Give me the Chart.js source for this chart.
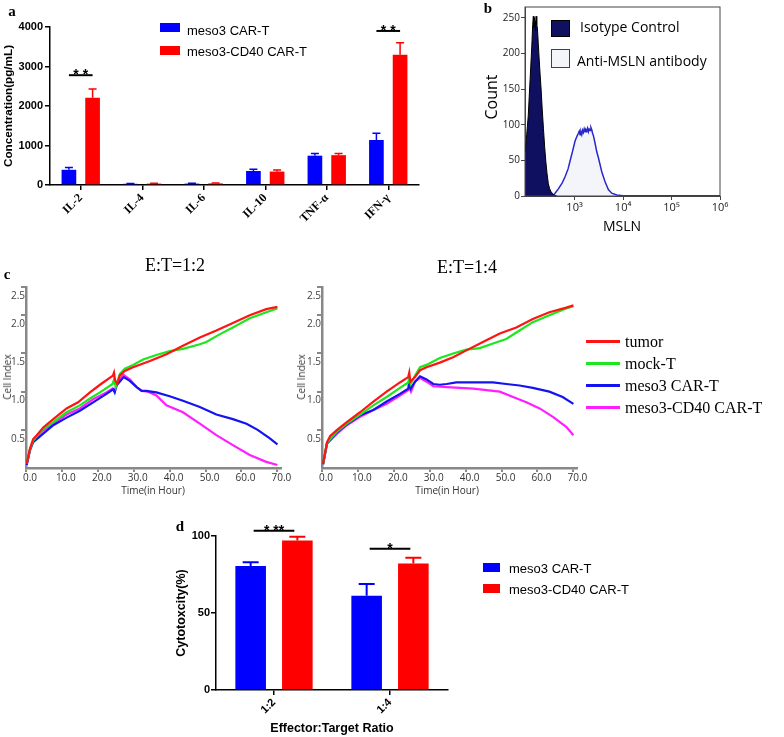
<!DOCTYPE html>
<html>
<head>
<meta charset="UTF-8">
<title>meso3 / meso3-CD40 CAR-T</title>
<script src="https://cdn.jsdelivr.net/npm/chart.js"></script>
<style>
    * { box-sizing: border-box; }
    body { margin: 0; background: #fff; }
    #page { position: relative; width: 784px; height: 737px; overflow: hidden; font-family: "Liberation Sans", Arial, sans-serif; color: #000; }
    .box { position: absolute; }
    .t { position: absolute; white-space: nowrap; line-height: 1; }
    .c { transform: translate(-50%, -50%); }
    .l { transform: translateY(-50%); }
    .v { transform: translate(-50%, -50%) rotate(-90deg); }
    .letter { font-family: "Liberation Serif", "Times New Roman", serif; font-weight: bold; font-size: 15px; }
    .sw { position: absolute; }
    .serif { font-family: "Liberation Serif", "Times New Roman", serif; }
    .sans { font-family: "Open Sans", "Noto Sans", sans-serif; }
</style>
</head>
<body>
<div id="page">
    <!-- a -->
    <div class="box" style="left:0;top:0;width:430px;height:230px"><canvas id="chartA" width="430" height="230"></canvas></div>
    <div class="t c letter" style="left:12px;top:11px">a</div>
    <div class="t v" style="left:8px;top:106px;font-weight:bold;font-size:11.7px">Concentration(pg/mL)</div>
    <div class="sw" style="left:160px;top:23px;width:20px;height:9px;background:#0000ff"></div>
    <div class="t l" style="left:187px;top:30px;font-size:13px">meso3 CAR-T</div>
    <div class="sw" style="left:160px;top:46px;width:20px;height:9px;background:#ff0000"></div>
    <div class="t l" style="left:187px;top:51px;font-size:13px">meso3-CD40 CAR-T</div>

    <!-- b -->
    <div class="box" style="left:470px;top:0;width:260px;height:221px"><canvas id="chartB" width="260" height="221"></canvas></div>
    <div class="t c letter" style="left:488px;top:8px">b</div>
    <div class="t v sans" style="left:491px;top:97px;font-size:16px">Count</div>
    <div class="t c sans" style="left:622px;top:226px;font-size:14px">MSLN</div>
    <div class="sw" style="left:551px;top:20px;width:19px;height:17px;background:#101060;border:1px solid #000"></div>
    <div class="t l sans" style="left:580px;top:27px;font-size:14px">Isotype Control</div>
    <div class="sw" style="left:551px;top:49px;width:19px;height:19px;background:#f4f4fb;border:1.5px solid #3030c8"></div>
    <div class="t l sans" style="left:577px;top:61px;font-size:14px">Anti-MSLN antibody</div>

    <!-- c -->
    <div class="box" style="left:0;top:275px;width:300px;height:215px"><canvas id="chartC1" width="300" height="215"></canvas></div>
    <div class="box" style="left:296px;top:275px;width:300px;height:215px"><canvas id="chartC2" width="300" height="215"></canvas></div>
    <div class="t c letter" style="left:7px;top:274px">c</div>
    <div class="t c serif" style="left:175px;top:265px;font-size:18px">E:T=1:2</div>
    <div class="t c serif" style="left:467px;top:267px;font-size:18px">E:T=1:4</div>
    <div class="t v sans" style="left:7px;top:377px;font-size:10px;color:#333">Cell Index</div>
    <div class="t v sans" style="left:301px;top:377px;font-size:10px;color:#333">Cell Index</div>
    <div class="t c sans" style="left:153px;top:490px;font-size:10px;color:#333">Time(in Hour)</div>
    <div class="t c sans" style="left:447px;top:490px;font-size:10px;color:#333">Time(in Hour)</div>
    <div class="sw" style="left:586px;top:340px;width:34px;height:2.5px;background:#ff1414"></div>
    <div class="t l serif" style="left:625px;top:342px;font-size:16px">tumor</div>
    <div class="sw" style="left:586px;top:362px;width:34px;height:2.5px;background:#1ee61e"></div>
    <div class="t l serif" style="left:625px;top:364px;font-size:16px">mock-T</div>
    <div class="sw" style="left:586px;top:384px;width:34px;height:2.5px;background:#1414f0"></div>
    <div class="t l serif" style="left:625px;top:386px;font-size:16px">meso3 CAR-T</div>
    <div class="sw" style="left:586px;top:406px;width:34px;height:2.5px;background:#ff1eff"></div>
    <div class="t l serif" style="left:625px;top:408px;font-size:16px">meso3-CD40 CAR-T</div>

    <!-- d -->
    <div class="box" style="left:160px;top:495px;width:330px;height:242px"><canvas id="chartD" width="330" height="242"></canvas></div>
    <div class="t c letter" style="left:180px;top:526px">d</div>
    <div class="t v" style="left:181px;top:613px;font-weight:bold;font-size:12.5px">Cytotoxcity(%)</div>
    <div class="t c" style="left:332px;top:728px;font-weight:bold;font-size:12.5px">Effector:Target Ratio</div>
    <div class="sw" style="left:483px;top:563px;width:17px;height:9px;background:#0000ff"></div>
    <div class="t l" style="left:509px;top:568px;font-size:13px">meso3 CAR-T</div>
    <div class="sw" style="left:483px;top:584px;width:17px;height:9px;background:#ff0000"></div>
    <div class="t l" style="left:509px;top:589px;font-size:13px">meso3-CD40 CAR-T</div>
</div>

<script>
    // ---- data: panel a (cytokines, pg/mL)
    const cytokines = ['IL-2', 'IL-4', 'IL-6', 'IL-10', 'TNF-α', 'IFN-γ'];
    const meso3Cyto = [385, 30, 35, 355, 742, 1140];
    const meso3CytoErr = [55, 8, 8, 45, 55, 170];
    const cd40Cyto = [2210, 35, 40, 340, 755, 3300];
    const cd40CytoErr = [220, 8, 8, 40, 45, 300];
    const cytoSigIndex = [0, 5];
    const cytoSigLevel = [2780, 3900];
    const cytoSigText = ['* *', '* *'];

    // ---- data: panel b (flow histogram, [MSLN, count])
    const isotypeCounts = [[96, 61], [103, 86], [111, 113], [121, 163], [131, 209], [137, 240], [141, 252],
        [145, 236], [149, 250], [153, 245], [157, 232], [161, 252], [166, 240], [171, 236], [178, 215],
        [185, 195], [194, 172], [204, 150], [215, 122], [228, 95], [241, 70], [255, 49], [270, 32],
        [288, 17], [307, 10], [328, 6], [355, 3], [383, 1], [430, 0]];
    const antiMslnCounts = [[312, 0], [378, 2], [463, 10], [553, 18], [637, 27], [735, 38], [807, 49],
        [910, 63], [1024, 77], [1126, 84], [1198, 88], [1250, 91], [1298, 86], [1350, 90], [1407, 86],
        [1460, 92], [1518, 89], [1580, 94], [1644, 90], [1710, 93], [1785, 91], [1850, 95], [1928, 90],
        [2000, 94], [2090, 92], [2180, 96], [2265, 93], [2350, 88], [2444, 85], [2650, 74], [2871, 62],
        [3097, 54], [3640, 34], [4257, 20], [4980, 9], [5845, 4], [7413, 1.5], [10000, 0.5],
        [22400, 0.3], [1000000, 0.3]];
    const flowTicks = [1e3, 1e4, 1e5, 1e6];
    const flowTickLabels = ['10³', '10⁴', '10⁵', '10⁶'];
    const countTicks = [0, 50, 100, 150, 200, 250];

    // ---- data: panel c (cell index, [hour, value])
    const tumor12 = [[0.2, 0.06], [1.1, 0.25], [2, 0.38], [3, 0.43], [4.8, 0.53], [7.6, 0.64], [11.3, 0.78],
        [14.5, 0.86], [17.8, 0.99], [20.6, 1.09], [24.2, 1.21], [24.5, 1.25], [24.8, 1.15], [25.4, 1.1],
        [26.1, 1.21], [27.5, 1.27], [29.8, 1.32], [34.5, 1.40], [39.1, 1.49], [43.7, 1.60], [48.4, 1.71],
        [53, 1.80], [57.6, 1.90], [62.3, 2.0], [66.9, 2.08], [70, 2.11]];
    const mock12 = [[0.2, 0.06], [1.1, 0.24], [2, 0.36], [4.8, 0.51], [7.6, 0.60], [11.3, 0.73], [15, 0.82],
        [17.8, 0.91], [20.6, 0.99], [24.1, 1.10], [24.5, 1.16], [25, 1.06], [26.1, 1.23], [27.5, 1.30],
        [29.8, 1.35], [32.6, 1.42], [36.3, 1.48], [40, 1.53], [43.7, 1.56], [48.4, 1.62], [50.2, 1.65],
        [53.9, 1.75], [57.6, 1.84], [62.3, 1.96], [66.9, 2.04], [70, 2.09]];
    const meso3_12 = [[0.2, 0.04], [1.1, 0.23], [2, 0.34], [4.8, 0.45], [7.6, 0.56], [11.3, 0.66], [15, 0.75],
        [18.7, 0.86], [22.4, 0.97], [24.3, 1.03], [24.7, 0.99], [25.2, 1.08], [27.2, 1.19], [28.9, 1.14],
        [30.8, 1.06], [32.2, 1.01], [33.5, 1.01], [36.3, 0.99], [40, 0.94], [43.7, 0.88], [48.4, 0.80],
        [53, 0.70], [57.6, 0.64], [61.4, 0.58], [64.5, 0.50], [67.8, 0.39], [70, 0.31]];
    const cd40_12 = [[0.2, 0.05], [1.1, 0.24], [2, 0.36], [4.8, 0.49], [7.6, 0.58], [11.3, 0.70], [15, 0.78],
        [18.7, 0.90], [22.4, 0.99], [24.1, 1.04], [24.7, 1.0], [25.3, 1.1], [27.1, 1.22], [28.9, 1.16],
        [30.8, 1.06], [32.2, 1.01], [34, 1.0], [36.3, 0.95], [39.1, 0.82], [43.7, 0.73], [48.4, 0.58],
        [53, 0.43], [57.6, 0.30], [62.3, 0.17], [66.9, 0.08], [70, 0.04]];

    const tumor14 = [[0.3, 0.06], [1.4, 0.34], [2.3, 0.42], [4.2, 0.50], [6.9, 0.60], [10.6, 0.73], [14.3, 0.87],
        [18, 1.0], [21.7, 1.12], [24, 1.19], [24.3, 1.25], [24.6, 1.13], [25.9, 1.19], [27.3, 1.28],
        [29.1, 1.32], [32.8, 1.38], [36.5, 1.45], [40.2, 1.54], [44.8, 1.65], [49.5, 1.76], [54.1, 1.84],
        [58.7, 1.95], [63.3, 2.04], [68, 2.10], [70, 2.13]];
    const mock14 = [[0.3, 0.06], [1.4, 0.33], [4.2, 0.48], [6.9, 0.58], [10.6, 0.70], [14.3, 0.82], [18, 0.93],
        [21.7, 1.05], [24, 1.12], [24.3, 1.19], [24.7, 1.10], [25.9, 1.21], [27.3, 1.32], [29.1, 1.35],
        [32.8, 1.44], [36.5, 1.50], [40.2, 1.55], [43.9, 1.57], [47.6, 1.63], [51.3, 1.69], [55, 1.80],
        [58.7, 1.91], [63.3, 2.0], [68, 2.09], [70, 2.12]];
    const meso3_14 = [[0.3, 0.05], [1.4, 0.32], [4.2, 0.47], [6.9, 0.57], [10.6, 0.69], [14.3, 0.76], [18, 0.87],
        [21.7, 0.97], [24, 1.04], [24.3, 1.13], [24.7, 1.04], [25.9, 1.13], [27.3, 1.20], [29.1, 1.16],
        [31, 1.10], [32.8, 1.09], [34.7, 1.10], [37.4, 1.12], [42.1, 1.12], [47.6, 1.12], [51.3, 1.10],
        [55, 1.08], [58.7, 1.05], [63.3, 1.0], [67, 0.93], [70, 0.84]];
    const cd40_14 = [[0.3, 0.05], [1.4, 0.32], [4.2, 0.45], [6.9, 0.56], [10.6, 0.67], [14.3, 0.76], [18, 0.84],
        [21.7, 0.95], [24, 1.02], [24.5, 1.04], [24.8, 1.0], [25.9, 1.13], [27.3, 1.18], [29.1, 1.13],
        [31, 1.07], [34.7, 1.06], [38.4, 1.05], [42.1, 1.04], [45.8, 1.02], [49.5, 1.0], [53.2, 0.93],
        [56.9, 0.86], [60.6, 0.78], [64.3, 0.67], [68, 0.54], [70, 0.43]];
    const timeTicks = [0, 10, 20, 30, 40, 50, 60, 70];
    const cellIdxTickPos = [0.5, 1.0, 1.5, 2.0, 2.37];
    const cellIdxTickLabels = ['0.5', '1.0', '1.5', '2.0', '2.5'];

    // ---- data: panel d (cytotoxicity %)
    const ratios = ['1:2', '1:4'];
    const meso3Cytotox = [80.5, 61.2];
    const meso3CytotoxErr = [2.4, 7.6];
    const cd40Cytotox = [97, 82.2];
    const cd40CytotoxErr = [2.5, 3.7];
    const cytotoxSigIndex = [0, 1];
    const cytotoxSigLevel = [103.4, 91.8];
    const cytotoxSigText = ['* **', '*'];

    const BLUE = '#0000ff', RED = '#ff0000';
    const SERIF = '"Liberation Serif", "Times New Roman", serif';
    const SANS = '"Open Sans", "Noto Sans", sans-serif';
    Chart.defaults.font.family = '"Liberation Sans", Arial, sans-serif';

    // one-sided error bars on top of each bar
    function errorBarPlugin(cap, width) {
        return {
            id: 'errorBars',
            afterDatasetsDraw(chart) {
                const ctx = chart.ctx, y = chart.scales.y;
                chart.data.datasets.forEach((ds, i) => {
                    chart.getDatasetMeta(i).data.forEach((bar, j) => {
                        const top = y.getPixelForValue(ds.data[j] + ds.errors[j]);
                        ctx.save();
                        ctx.strokeStyle = ds.backgroundColor;
                        ctx.lineWidth = width;
                        ctx.beginPath();
                        ctx.moveTo(bar.x, bar.y);
                        ctx.lineTo(bar.x, top);
                        ctx.moveTo(bar.x - cap / 2, top);
                        ctx.lineTo(bar.x + cap / 2, top);
                        ctx.stroke();
                        ctx.restore();
                    });
                });
            }
        };
    }

    // significance line + stars between the two bars of a group
    function sigPlugin(index, level, text, inset) {
        return {
            id: 'sigBars',
            afterDatasetsDraw(chart) {
                const ctx = chart.ctx, y = chart.scales.y;
                const a = chart.getDatasetMeta(0).data, b = chart.getDatasetMeta(1).data;
                index.forEach((idx, k) => {
                    const py = y.getPixelForValue(level[k]);
                    const x1 = a[idx].x + inset, x2 = b[idx].x - inset;
                    ctx.save();
                    ctx.strokeStyle = '#000';
                    ctx.lineWidth = 2;
                    ctx.beginPath();
                    ctx.moveTo(x1, py);
                    ctx.lineTo(x2, py);
                    ctx.stroke();
                    ctx.fillStyle = '#000';
                    ctx.font = 'bold 14px "Liberation Sans", Arial';
                    ctx.textAlign = 'center';
                    ctx.textBaseline = 'alphabetic';
                    ctx.fillText(text[k], (x1 + x2) / 2, py + 4);
                    ctx.restore();
                });
            }
        };
    }

    const framePlugin = {
        id: 'frame',
        afterDraw(chart) {
            const { ctx, chartArea: a } = chart;
            ctx.save();
            ctx.strokeStyle = '#444';
            ctx.lineWidth = 1;
            ctx.strokeRect(a.left, a.top, a.right - a.left, a.bottom - a.top);
            ctx.restore();
        }
    };

    const blackAxis = { color: '#000', width: 1.5 };
    const blackTicks = { drawOnChartArea: false, tickLength: 5, color: '#000', lineWidth: 1.5 };
    const plainNumber = v => String(v);

    // Panel a
    new Chart(document.getElementById('chartA'), {
        type: 'bar',
        data: {
            labels: cytokines,
            datasets: [
                { label: 'meso3 CAR-T', data: meso3Cyto, errors: meso3CytoErr, backgroundColor: BLUE,
                  categoryPercentage: 0.77, barPercentage: 0.62 },
                { label: 'meso3-CD40 CAR-T', data: cd40Cyto, errors: cd40CytoErr, backgroundColor: RED,
                  categoryPercentage: 0.77, barPercentage: 0.62 }
            ]
        },
        options: {
            responsive: false,
            animation: false,
            layout: { padding: { top: 27, right: 11, left: 0, bottom: 0 } },
            plugins: { legend: { display: false }, tooltip: { enabled: false } },
            scales: {
                x: {
                    afterFit: s => { s.height = 45; },
                    grid: Object.assign({ offset: false }, blackTicks),
                    border: blackAxis,
                    ticks: { font: { family: SERIF, weight: 'bold', size: 12 }, color: '#000',
                             minRotation: 45, maxRotation: 45, padding: 1 }
                },
                y: {
                    min: 0, max: 4000,
                    afterFit: s => { s.width = 50; },
                    ticks: { stepSize: 1000, callback: plainNumber, font: { weight: 'bold', size: 11 },
                             color: '#000', padding: 2 },
                    grid: blackTicks,
                    border: blackAxis
                }
            }
        },
        plugins: [errorBarPlugin(8, 1.5), sigPlugin(cytoSigIndex, cytoSigLevel, cytoSigText, 0)]
    });

    // Panel b
    new Chart(document.getElementById('chartB'), {
        type: 'scatter',
        data: {
            datasets: [
                { label: 'Isotype Control', data: isotypeCounts.map(([x, y]) => ({ x, y })),
                  showLine: true, fill: 'origin', backgroundColor: '#101060', borderColor: '#000',
                  borderWidth: 1, pointRadius: 0 },
                { label: 'Anti-MSLN antibody', data: antiMslnCounts.map(([x, y]) => ({ x, y })),
                  showLine: true, fill: 'origin', backgroundColor: '#f4f4fb', borderColor: '#2828c8',
                  borderWidth: 1.5, pointRadius: 0 }
            ]
        },
        options: {
            responsive: false,
            animation: false,
            layout: { padding: { top: 3, right: 10, left: 0, bottom: 0 } },
            plugins: { legend: { display: false }, tooltip: { enabled: false } },
            scales: {
                x: {
                    type: 'logarithmic', min: 95, max: 1e6,
                    afterBuildTicks: s => { s.ticks = flowTicks.map(v => ({ value: v })); },
                    afterFit: s => { s.height = 25; },
                    ticks: { callback: (v, i) => flowTickLabels[i], font: { family: SANS, size: 11 },
                             color: '#222', padding: 1, maxRotation: 0, autoSkip: false },
                    grid: { drawOnChartArea: false, tickLength: 4, color: '#444' },
                    border: { color: '#444' }
                },
                y: {
                    min: 0, max: 265,
                    afterBuildTicks: s => { s.ticks = countTicks.map(v => ({ value: v })); },
                    afterFit: s => { s.width = 55; },
                    ticks: { font: { family: SANS, size: 10 }, color: '#222', padding: 1 },
                    grid: { drawOnChartArea: false, tickLength: 4, color: '#444' },
                    border: { color: '#444' }
                }
            }
        },
        plugins: [framePlugin]
    });

    // Panel c
    function cellIndexChart(id, tumor, mock, meso3, cd40) {
        const line = (label, pts, color) => ({
            label, data: pts.map(([x, y]) => ({ x, y })), borderColor: color, backgroundColor: color,
            borderWidth: 2.2, pointRadius: 0, tension: 0, fill: false
        });
        return new Chart(document.getElementById(id), {
            type: 'line',
            data: {
                datasets: [
                    line('tumor', tumor, '#ff1414'),
                    line('mock-T', mock, '#1ee61e'),
                    line('meso3 CAR-T', meso3, '#1414f0'),
                    line('meso3-CD40 CAR-T', cd40, '#ff1eff')
                ]
            },
            options: {
                responsive: false,
                animation: false,
                layout: { padding: { top: 12, right: 19, left: 0, bottom: 0 } },
                plugins: { legend: { display: false }, tooltip: { enabled: false } },
                scales: {
                    x: {
                        type: 'linear', min: 0, max: 71,
                        afterBuildTicks: s => { s.ticks = timeTicks.map(v => ({ value: v })); },
                        afterFit: s => { s.height = 22; },
                        ticks: { callback: v => v.toFixed(1), font: { family: SANS, size: 10 }, color: '#333',
                                 labelOffset: 4, padding: 0, maxRotation: 0, autoSkip: false },
                        grid: { drawOnChartArea: false, tickLength: 4, color: '#888', lineWidth: 2 },
                        border: { color: '#888', width: 2.5 }
                    },
                    y: {
                        min: 0, max: 2.37,
                        afterBuildTicks: s => { s.ticks = cellIdxTickPos.map(v => ({ value: v })); },
                        afterFit: s => { s.width = 26; },
                        ticks: { callback: (v, i) => cellIdxTickLabels[i], font: { family: SANS, size: 10 },
                                 color: '#444', labelOffset: 9, padding: -4 },
                        grid: { drawOnChartArea: false, tickLength: 5, color: '#888', lineWidth: 2 },
                        border: { color: '#888', width: 2.5 }
                    }
                }
            }
        });
    }
    cellIndexChart('chartC1', tumor12, mock12, meso3_12, cd40_12);
    cellIndexChart('chartC2', tumor14, mock14, meso3_14, cd40_14);

    // Panel d
    new Chart(document.getElementById('chartD'), {
        type: 'bar',
        data: {
            labels: ratios,
            datasets: [
                { label: 'meso3 CAR-T', data: meso3Cytotox, errors: meso3CytotoxErr, backgroundColor: BLUE,
                  categoryPercentage: 0.805, barPercentage: 0.655 },
                { label: 'meso3-CD40 CAR-T', data: cd40Cytotox, errors: cd40CytotoxErr, backgroundColor: RED,
                  categoryPercentage: 0.805, barPercentage: 0.655 }
            ]
        },
        options: {
            responsive: false,
            animation: false,
            layout: { padding: { top: 41, right: 42, left: 0, bottom: 0 } },
            plugins: { legend: { display: false }, tooltip: { enabled: false } },
            scales: {
                x: {
                    afterFit: s => { s.height = 47; },
                    grid: Object.assign({ offset: false }, blackTicks),
                    border: blackAxis,
                    ticks: { font: { weight: 'bold', size: 11 }, color: '#000',
                             minRotation: 45, maxRotation: 45, padding: 1 }
                },
                y: {
                    min: 0, max: 100,
                    afterFit: s => { s.width = 56; },
                    ticks: { stepSize: 50, callback: plainNumber, font: { weight: 'bold', size: 11 },
                             color: '#000', padding: 1 },
                    grid: blackTicks,
                    border: blackAxis
                }
            }
        },
        plugins: [errorBarPlugin(16, 2), sigPlugin(cytotoxSigIndex, cytotoxSigLevel, cytotoxSigText, 3)]
    });
</script>
</body>
</html>
